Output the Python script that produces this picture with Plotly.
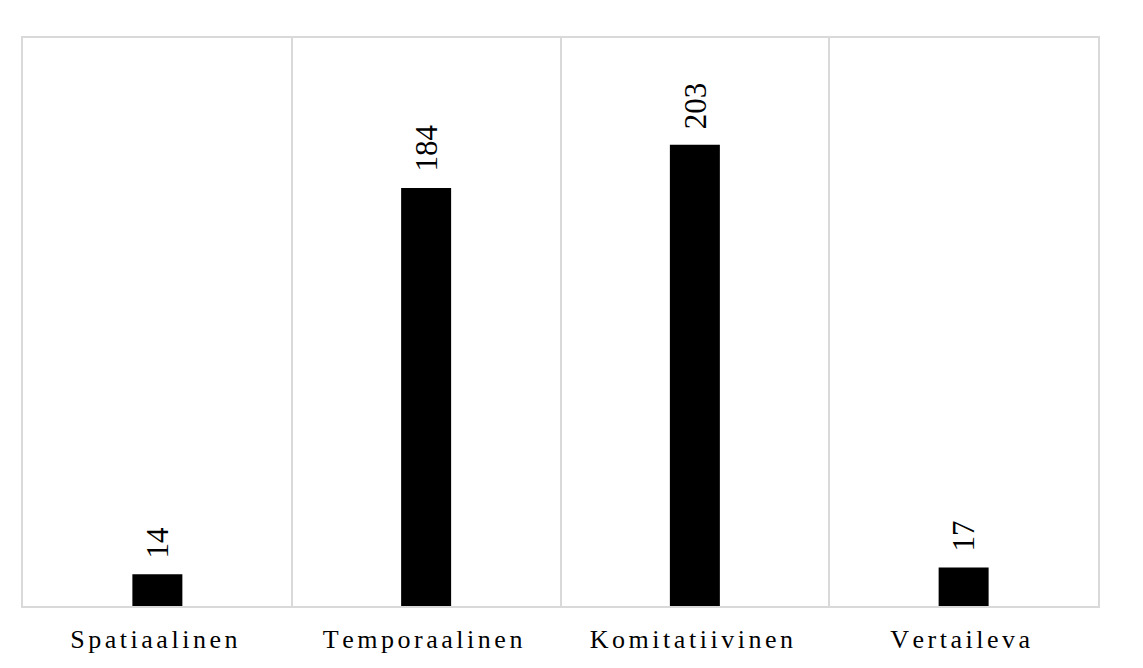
import plotly.graph_objects as go

categories = ["Spatiaalinen", "Temporaalinen", "Komitatiivinen", "Vertaileva"]
values = [14, 184, 203, 17]

FONT = "Liberation Serif, Times New Roman, serif"
SP = '<span style="font-size:42px">\u200a</span>'
tick_labels = [SP.join(list(c)) + SP + SP for c in categories]

fig = go.Figure(go.Bar(x=categories, y=values, marker=dict(color="black", line=dict(width=0)),
                       width=0.186))

for c, v in zip(categories, values):
    fig.add_annotation(x=c, y=v, text=str(v), textangle=-90, showarrow=False,
                       yanchor="bottom", xanchor="center", yshift=14,
                       font=dict(family=FONT, size=31, color="black"))

fig.update_layout(
    width=1143, height=668,
    margin=dict(l=15, r=53, t=30, b=70),
    paper_bgcolor="white", plot_bgcolor="white",
    showlegend=False,
    font=dict(family=FONT, color="black"),
)
fig.update_xaxes(
    tickmode="array", tickvals=categories, ticktext=tick_labels,
    tickfont=dict(family=FONT, size=26, color="black"),
    showgrid=True, gridcolor="#d9d9d9", gridwidth=1.5, tickson="boundaries",
    ticks="", ticklabelstandoff=9,
    showline=True, linecolor="#d9d9d9", linewidth=1.5, mirror=True,
)
fig.update_yaxes(
    range=[0, 250], showgrid=False, showticklabels=False, zeroline=False, ticks="",
    showline=True, linecolor="#d9d9d9", linewidth=1.5, mirror=True,
)
fig.write_html("out.html")
